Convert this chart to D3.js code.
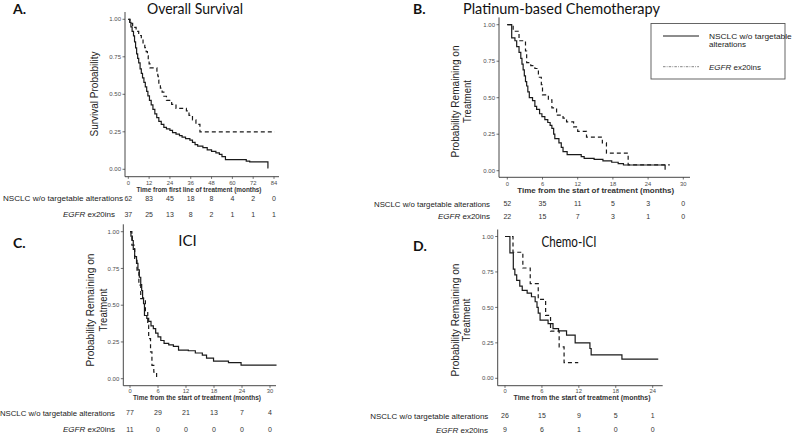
<!DOCTYPE html>
<html><head><meta charset="utf-8">
<script src="https://cdn.jsdelivr.net/npm/d3@7/dist/d3.min.js"></script>
<style>body{margin:0;background:#fff}svg{display:block}</style>
</head><body>
<svg id="c" width="800" height="434"></svg>
<script>
// ---------------- DATA ----------------
const seriesNames = ["NSCLC  w/o targetable", "alterations"];
const seriesNameEGFR = ["EGFR", " ex20ins"];
const riskLabelNS = "NSCLC w/o targetable alterations";
const yTickValues = [0, 0.25, 0.5, 0.75, 1];
const yTickLabels = ["0.00", "0.25", "0.50", "0.75", "1.00"];

// A. Overall survival
const osTicks = [0, 12, 24, 36, 48, 60, 72, 84];
const osNsT = [0, 0.8, 1.5, 2.2, 3.0, 3.6, 4.2, 4.8, 5.4, 6.0, 6.8, 7.5, 8.2, 9.0, 9.8, 10.6, 11.3, 12.2, 13.2, 14.2, 15.3, 16.4, 17.6, 19.0, 20.5, 22.0, 24.0, 25.5, 27.5, 29.5, 31.0, 33.0, 35.5, 37.0, 38.5, 40.0, 43.0, 45.5, 48.0, 50.5, 52.5, 54.0, 56.0, 68.0, 70.0, 80.5, 80.8];
const osNsS = [1, 0.98, 0.95, 0.92, 0.89, 0.85, 0.81, 0.77, 0.74, 0.71, 0.67, 0.64, 0.61, 0.58, 0.55, 0.52, 0.49, 0.46, 0.43, 0.40, 0.37, 0.345, 0.32, 0.30, 0.28, 0.27, 0.26, 0.245, 0.235, 0.225, 0.215, 0.205, 0.195, 0.18, 0.165, 0.155, 0.145, 0.13, 0.12, 0.11, 0.10, 0.085, 0.065, 0.055, 0.05, 0.01, 0.01];
const osEgT = [0, 1.0, 2.5, 4.5, 6.0, 7.5, 8.5, 9.5, 10.3, 11.0, 11.5, 12.0, 12.5, 16.5, 17.0, 17.3, 17.6, 18.5, 19.5, 20.5, 22.0, 25.0, 27.5, 33.5, 35.0, 37.0, 39.0, 41.3, 84.5];
const osEgS = [1, 0.973, 0.946, 0.919, 0.892, 0.865, 0.838, 0.811, 0.784, 0.757, 0.730, 0.703, 0.676, 0.649, 0.622, 0.595, 0.568, 0.541, 0.514, 0.487, 0.46, 0.433, 0.406, 0.39, 0.36, 0.33, 0.30, 0.25, 0.25];
const osRiskNS = [62, 83, 45, 18, 8, 4, 2, 0];
const osRiskEG = [37, 25, 13, 8, 2, 1, 1, 1];

// B. Platinum-based chemotherapy
const ptTicks = [0, 6, 12, 18, 24, 30];
const ptNsT = [0, 0.75, 1.3, 1.6, 2.0, 2.3, 2.5, 2.7, 2.9, 3.1, 3.3, 3.5, 3.75, 4.3, 4.7, 5.0, 5.5, 5.9, 6.4, 6.9, 7.3, 7.6, 7.9, 8.1, 8.8, 9.2, 9.5, 10.2, 12.6, 13.1, 14.8, 16.3, 17.8, 18.9, 19.8, 26.9, 27.0];
const ptNsS = [1, 0.91, 0.89, 0.85, 0.81, 0.77, 0.73, 0.69, 0.65, 0.61, 0.58, 0.54, 0.50, 0.48, 0.44, 0.42, 0.39, 0.37, 0.35, 0.33, 0.31, 0.29, 0.25, 0.22, 0.19, 0.16, 0.13, 0.11, 0.096, 0.085, 0.077, 0.067, 0.058, 0.048, 0.039, 0.01, 0.01];
const ptEgT = [0, 1.0, 2.0, 3.1, 3.3, 4.0, 4.7, 5.3, 5.8, 6.0, 7.0, 7.6, 8.4, 9.5, 10.1, 11.3, 12.0, 13.5, 16.2, 16.9, 20.6, 27.7];
const ptEgS = [1, 0.955, 0.89, 0.82, 0.74, 0.72, 0.70, 0.64, 0.59, 0.52, 0.485, 0.43, 0.38, 0.36, 0.335, 0.30, 0.27, 0.23, 0.19, 0.12, 0.04, 0.04];
const ptRiskNS = [52, 35, 11, 5, 3, 0];
const ptRiskEG = [22, 15, 7, 3, 1, 0];

// C. ICI
const iciTicks = [0, 6, 12, 18, 24, 30];
const iciNsT = [0, 0.2, 0.5, 0.7, 1.0, 1.4, 1.7, 2.0, 2.3, 2.5, 2.7, 2.9, 3.1, 3.6, 4.0, 4.5, 5.0, 5.5, 6.0, 6.6, 7.3, 8.3, 9.3, 10.4, 12.5, 14.0, 15.5, 16.4, 17.9, 21.1, 23.8, 31.4];
const iciNsS = [1, 0.97, 0.94, 0.88, 0.83, 0.785, 0.74, 0.69, 0.64, 0.60, 0.55, 0.51, 0.43, 0.41, 0.39, 0.36, 0.34, 0.31, 0.285, 0.26, 0.24, 0.23, 0.22, 0.195, 0.19, 0.175, 0.16, 0.14, 0.12, 0.11, 0.093, 0.093];
const iciEgT = [0, 0.4, 1.0, 1.5, 1.9, 2.3, 3.3, 3.8, 4.0, 4.4, 4.7, 5.1, 5.7];
const iciEgS = [1, 0.909, 0.818, 0.727, 0.636, 0.545, 0.455, 0.364, 0.273, 0.182, 0.091, 0.045, 0.0];
const iciRiskNS = [77, 29, 21, 13, 7, 4];
const iciRiskEG = [11, 0, 0, 0, 0, 0];

// D. Chemo-ICI
const ciTicks = [0, 6, 12, 18, 24];
const ciNsT = [0, 0.8, 1.35, 1.6, 1.9, 2.4, 2.8, 3.6, 4.3, 4.9, 5.2, 5.4, 5.7, 7.0, 7.8, 8.7, 10.0, 11.4, 13.8, 14.0, 19.0, 24.9];
const ciNsS = [1, 0.885, 0.77, 0.73, 0.69, 0.65, 0.62, 0.60, 0.575, 0.54, 0.50, 0.46, 0.41, 0.385, 0.35, 0.335, 0.305, 0.25, 0.21, 0.165, 0.135, 0.135];
const ciEgT = [0, 1.3, 2.9, 4.1, 5.4, 6.6, 7.4, 8.8, 9.6, 11.9];
const ciEgS = [1, 0.889, 0.778, 0.667, 0.556, 0.444, 0.333, 0.222, 0.111, 0.111];
const ciRiskNS = [26, 15, 9, 5, 1];
const ciRiskEG = [9, 6, 1, 0, 0];

// ---------------- DRAWING ----------------
const svg = d3.select("#c");
const fSans = "'Liberation Sans', Arial, sans-serif";
const fTitle = "Lato, 'Open Sans', sans-serif";
const ink = "#1a1a1a";

function zip(t, s) { return t.map((d, i) => [d, s[i]]); }

const panels = [
  { letter: "A.", lx: 13, ly: 14, title: "Overall Survival", tx: 195, ty: 13.5, tlen: 96,
    ticks: osTicks, xr: [128.3, 274], yr: [169.3, 19.3], ax: 125, atop: 12, abot: 176.7, aright: 279,
    ns: zip(osNsT, osNsS), eg: zip(osEgT, osEgS), rNS: osRiskNS, rEG: osRiskEG,
    ytitle: ["Survival Probability"], ytx: [94], yty: 94, ytlen: [85],
    xtitle: "Time from first line of treatment (months)", xtx: 199, xty: 190, xtlen: 125, tkOff: 6.2,
    rowNS: 198.5, rowEG: 214.5, labR: 123, labREG: 115, labLen: 120 },
  { letter: "B.", lx: 413, ly: 14, title: "Platinum-based Chemotherapy", tx: 561.5, ty: 14, tlen: 197,
    ticks: ptTicks, xr: [507.3, 683.3], yr: [170.7, 24.7], ax: 499, atop: 17.4, abot: 177.3, aright: 690,
    ns: zip(ptNsT, ptNsS), eg: zip(ptEgT, ptEgS), rNS: ptRiskNS, rEG: ptRiskEG,
    ytitle: ["Probability Remaining on", "Treatment"], ytx: [455, 467.5], yty: 101.5, ytlen: [112, 43],
    xtitle: "Time from the start of treatment (months)", xtx: 595.7, xty: 190.7, xtlen: 157, tkOff: 6.2,
    rowNS: 204, rowEG: 216.5, labR: 490, labREG: 490, labLen: 116 },
  { letter: "C.", lx: 13, ly: 248, title: "ICI", tx: 187.5, ty: 245.5, tlen: null,
    ticks: iciTicks, xr: [130, 270], yr: [378.7, 231.7], ax: 123.3, atop: 224.3, abot: 385.7, aright: 276,
    ns: zip(iciNsT, iciNsS), eg: zip(iciEgT, iciEgS), rNS: iciRiskNS, rEG: iciRiskEG,
    ytitle: ["Probability Remaining on", "Treatment"], ytx: [90.5, 103], yty: 310, ytlen: [113, 43],
    xtitle: "Time from the start of treatment (months)", xtx: 197, xty: 397.5, xtlen: 128, tkOff: 5.4,
    rowNS: 412.7, rowEG: 429.5, labR: 115, labREG: 115, labLen: 115 },
  { letter: "D.", lx: 413, ly: 251, title: "Chemo-ICI", tx: 569, ty: 246.5, tlen: 55,
    ticks: ciTicks, xr: [505, 652.7], yr: [378.3, 236.5], ax: 497.7, atop: 229.5, abot: 385.7, aright: 662.7,
    ns: zip(ciNsT, ciNsS), eg: zip(ciEgT, ciEgS), rNS: ciRiskNS, rEG: ciRiskEG,
    ytitle: ["Probability Remaining on", "Treatment"], ytx: [455, 466.5], yty: 320, ytlen: [113, 43],
    xtitle: "Time from the start of treatment (months)", xtx: 582, xty: 397.8, xtlen: 137, tkOff: 5.4,
    rowNS: 415.7, rowEG: 429.8, labR: 488.3, labREG: 488, labLen: 118 }
];

panels.forEach(p => {
  const g = svg.append("g");
  const x = d3.scaleLinear().domain([p.ticks[0], p.ticks[p.ticks.length - 1]]).range(p.xr);
  const y = d3.scaleLinear().domain([0, 1]).range(p.yr);

  g.append("text").attr("x", p.lx).attr("y", p.ly).text(p.letter)
    .attr("font-family", fTitle).attr("font-weight", "bold").attr("font-size", 14).attr("fill", "#111");
  const t = g.append("text").attr("x", p.tx).attr("y", p.ty).attr("text-anchor", "middle").text(p.title)
    .attr("font-family", fTitle).attr("font-size", 15).attr("fill", "#111");
  if (p.tlen) t.attr("textLength", p.tlen).attr("lengthAdjust", "spacingAndGlyphs");

  g.append("line").attr("x1", p.ax).attr("x2", p.ax).attr("y1", p.atop).attr("y2", p.abot)
    .attr("stroke", "#333").attr("stroke-width", 0.9);
  g.append("line").attr("x1", p.ax).attr("x2", p.aright).attr("y1", p.abot).attr("y2", p.abot)
    .attr("stroke", "#333").attr("stroke-width", 0.9);

  yTickValues.forEach((v, i) => {
    g.append("line").attr("x1", p.ax - 2.5).attr("x2", p.ax).attr("y1", y(v)).attr("y2", y(v))
      .attr("stroke", "#333").attr("stroke-width", 0.7);
    g.append("text").attr("x", p.ax - 4).attr("y", y(v)).attr("dy", "0.35em").attr("text-anchor", "end")
      .text(yTickLabels[i]).attr("font-family", fSans).attr("font-size", 6).attr("fill", "#4d4d4d");
  });
  p.ticks.forEach(v => {
    g.append("line").attr("x1", x(v)).attr("x2", x(v)).attr("y1", p.abot).attr("y2", p.abot + 2.2)
      .attr("stroke", "#333").attr("stroke-width", 0.7);
    g.append("text").attr("x", x(v)).attr("y", p.abot + p.tkOff).attr("dy", "0.35em").attr("text-anchor", "middle")
      .text(v).attr("font-family", fSans).attr("font-size", 5.8).attr("fill", "#4d4d4d");
  });

  p.ytitle.forEach((s, i) => {
    g.append("text").attr("transform", `translate(${p.ytx[i]},${p.yty}) rotate(-90)`)
      .attr("text-anchor", "middle").attr("dy", "0.35em").text(s)
      .attr("font-family", fSans).attr("font-size", 10.5).attr("fill", "#222")
      .attr("textLength", p.ytlen[i]).attr("lengthAdjust", "spacingAndGlyphs");
  });
  g.append("text").attr("x", p.xtx).attr("y", p.xty).attr("dy", "0.35em").attr("text-anchor", "middle")
    .text(p.xtitle).attr("font-family", fSans).attr("font-weight", "bold").attr("font-size", 6.8)
    .attr("fill", "#333").attr("textLength", p.xtlen).attr("lengthAdjust", "spacingAndGlyphs");

  const line = d3.line().x(d => x(d[0])).y(d => y(d[1])).curve(d3.curveStepAfter);
  g.append("path").attr("d", line(p.ns)).attr("fill", "none").attr("stroke", ink).attr("stroke-width", 1.2);
  g.append("path").attr("d", line(p.eg)).attr("fill", "none").attr("stroke", ink).attr("stroke-width", 1.2)
    .attr("stroke-dasharray", "4,3");

  g.append("text").attr("x", p.labR).attr("y", p.rowNS).attr("dy", "0.35em").attr("text-anchor", "end")
    .text(riskLabelNS).attr("font-family", fSans).attr("font-size", 8).attr("fill", "#222")
    .attr("textLength", p.labLen).attr("lengthAdjust", "spacingAndGlyphs");
  const eg = g.append("text").attr("x", p.labREG).attr("y", p.rowEG).attr("dy", "0.35em").attr("text-anchor", "end")
    .attr("font-family", fSans).attr("font-size", 8).attr("fill", "#222");
  eg.append("tspan").attr("font-style", "italic").text(seriesNameEGFR[0]);
  eg.append("tspan").text(seriesNameEGFR[1]);
  p.rNS.forEach((v, i) => {
    g.append("text").attr("x", x(p.ticks[i])).attr("y", p.rowNS).attr("dy", "0.35em").attr("text-anchor", "middle")
      .text(v).attr("font-family", fSans).attr("font-size", 7).attr("fill", "#333");
  });
  p.rEG.forEach((v, i) => {
    g.append("text").attr("x", x(p.ticks[i])).attr("y", p.rowEG).attr("dy", "0.35em").attr("text-anchor", "middle")
      .text(v).attr("font-family", fSans).attr("font-size", 7).attr("fill", "#333");
  });
});

// legend
const lg = svg.append("g");
lg.append("rect").attr("x", 651).attr("y", 23.5).attr("width", 134).attr("height", 55.5)
  .attr("fill", "#fff").attr("stroke", "#555").attr("stroke-width", 0.9);
lg.append("line").attr("x1", 663).attr("x2", 699).attr("y1", 36).attr("y2", 36)
  .attr("stroke", ink).attr("stroke-width", 1);
lg.append("text").attr("x", 709).attr("y", 36).attr("dy", "0.35em").text(seriesNames[0])
  .attr("font-family", fSans).attr("font-size", 8).attr("fill", "#222")
  .attr("textLength", 82.7).attr("lengthAdjust", "spacingAndGlyphs");
lg.append("text").attr("x", 709).attr("y", 44.5).attr("dy", "0.35em").text(seriesNames[1])
  .attr("font-family", fSans).attr("font-size", 8).attr("fill", "#222");
lg.append("line").attr("x1", 663).attr("x2", 699).attr("y1", 66.7).attr("y2", 66.7)
  .attr("stroke", "#666").attr("stroke-width", 0.8).attr("stroke-dasharray", "2.5,1.2,0.8,1.2");
const le = lg.append("text").attr("x", 709).attr("y", 67).attr("dy", "0.35em")
  .attr("font-family", fSans).attr("font-size", 8).attr("fill", "#222");
le.append("tspan").attr("font-style", "italic").text(seriesNameEGFR[0]);
le.append("tspan").text(seriesNameEGFR[1]);
</script>
</body></html>
